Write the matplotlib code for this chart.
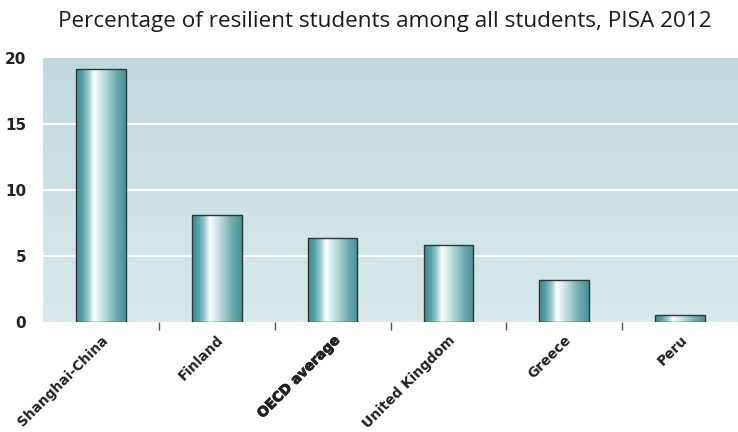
import matplotlib
matplotlib.use("Agg")
import matplotlib.pyplot as plt
import matplotlib.patheffects as pe
import numpy as np
from matplotlib.colors import LinearSegmentedColormap

categories = ["Shanghai-China", "Finland", "OECD average", "United Kingdom", "Greece", "Peru"]
values = [19.2, 8.1, 6.4, 5.8, 3.2, 0.5]
yticks = [0, 5, 10, 15, 20]
title = "Percentage of resilient students among all students, PISA 2012"

fig = plt.figure(figsize=(7.38, 4.32), dpi=100)
ax = fig.add_axes([43/738, 1 - 322/432, 1 - 43/738, (322 - 58)/432])

# background vertical gradient
bg = LinearSegmentedColormap.from_list("bg", [(0, "#dae9eb"), (1, "#bfdadd")])
grad = np.linspace(0, 1, 256).reshape(-1, 1)
ax.imshow(grad, cmap=bg, origin="lower", extent=(-0.5, 5.5, 0, 20),
          aspect="auto", zorder=0)

for y in [5, 10, 15]:
    ax.axhline(y, color="white", lw=1.5, zorder=1)

stops = [(0.0, (62, 140, 145)), (0.12, (82, 158, 162)), (0.26, (160, 206, 208)),
         (0.36, (252, 255, 255)), (0.42, (232, 243, 243)), (0.55, (192, 222, 223)),
         (0.8, (112, 172, 175)), (1.0, (68, 146, 150))]
barcmap = LinearSegmentedColormap.from_list(
    "bar", [(p, tuple(c / 255 for c in rgb)) for p, rgb in stops])

x = np.arange(len(categories))
bars = ax.bar(x, values, width=0.43, facecolor="none", edgecolor="#333333",
              linewidth=1.0, zorder=3)
hgrad = np.linspace(0, 1, 256).reshape(1, -1)
for b in bars:
    bx, by = b.get_x(), b.get_y()
    w, h = b.get_width(), b.get_height()
    im = ax.imshow(hgrad, cmap=barcmap, extent=(bx, bx + w, by, by + h),
                   aspect="auto", zorder=2)
    im.set_clip_path(b)

ax.set_xlim(-0.5, 5.5)
ax.set_ylim(0, 20)
for s in ax.spines.values():
    s.set_visible(False)

ax.set_yticks(yticks)
ax.set_yticklabels([str(t) for t in yticks], fontsize=11, color="#222222",
                   family="DejaVu Sans", fontweight="bold")
ax.tick_params(axis="y", length=0, pad=12)

ax.set_xticks(x)
labels = ax.set_xticklabels(categories, rotation=45, ha="right",
                            rotation_mode="anchor", fontsize=9.9,
                            color="#222222", family="DejaVu Sans",
                            fontweight="bold")
for lab in labels:
    if lab.get_text() == "OECD average":
        lab.set_path_effects([pe.withStroke(linewidth=0.6, foreground="#222222")])
ax.tick_params(axis="x", which="major", length=0, pad=8)
ax.set_xticks(np.arange(0.5, 5.5, 1), minor=True)
ax.tick_params(axis="x", which="minor", length=6, width=1, color="#555555",
               direction="out")

fig.text(385/738, 1 - 22/432, title, ha="center", va="center", fontsize=16.2,
         family="Open Sans", color="#1a1a1a")

fig.savefig("out.png", dpi=100)
